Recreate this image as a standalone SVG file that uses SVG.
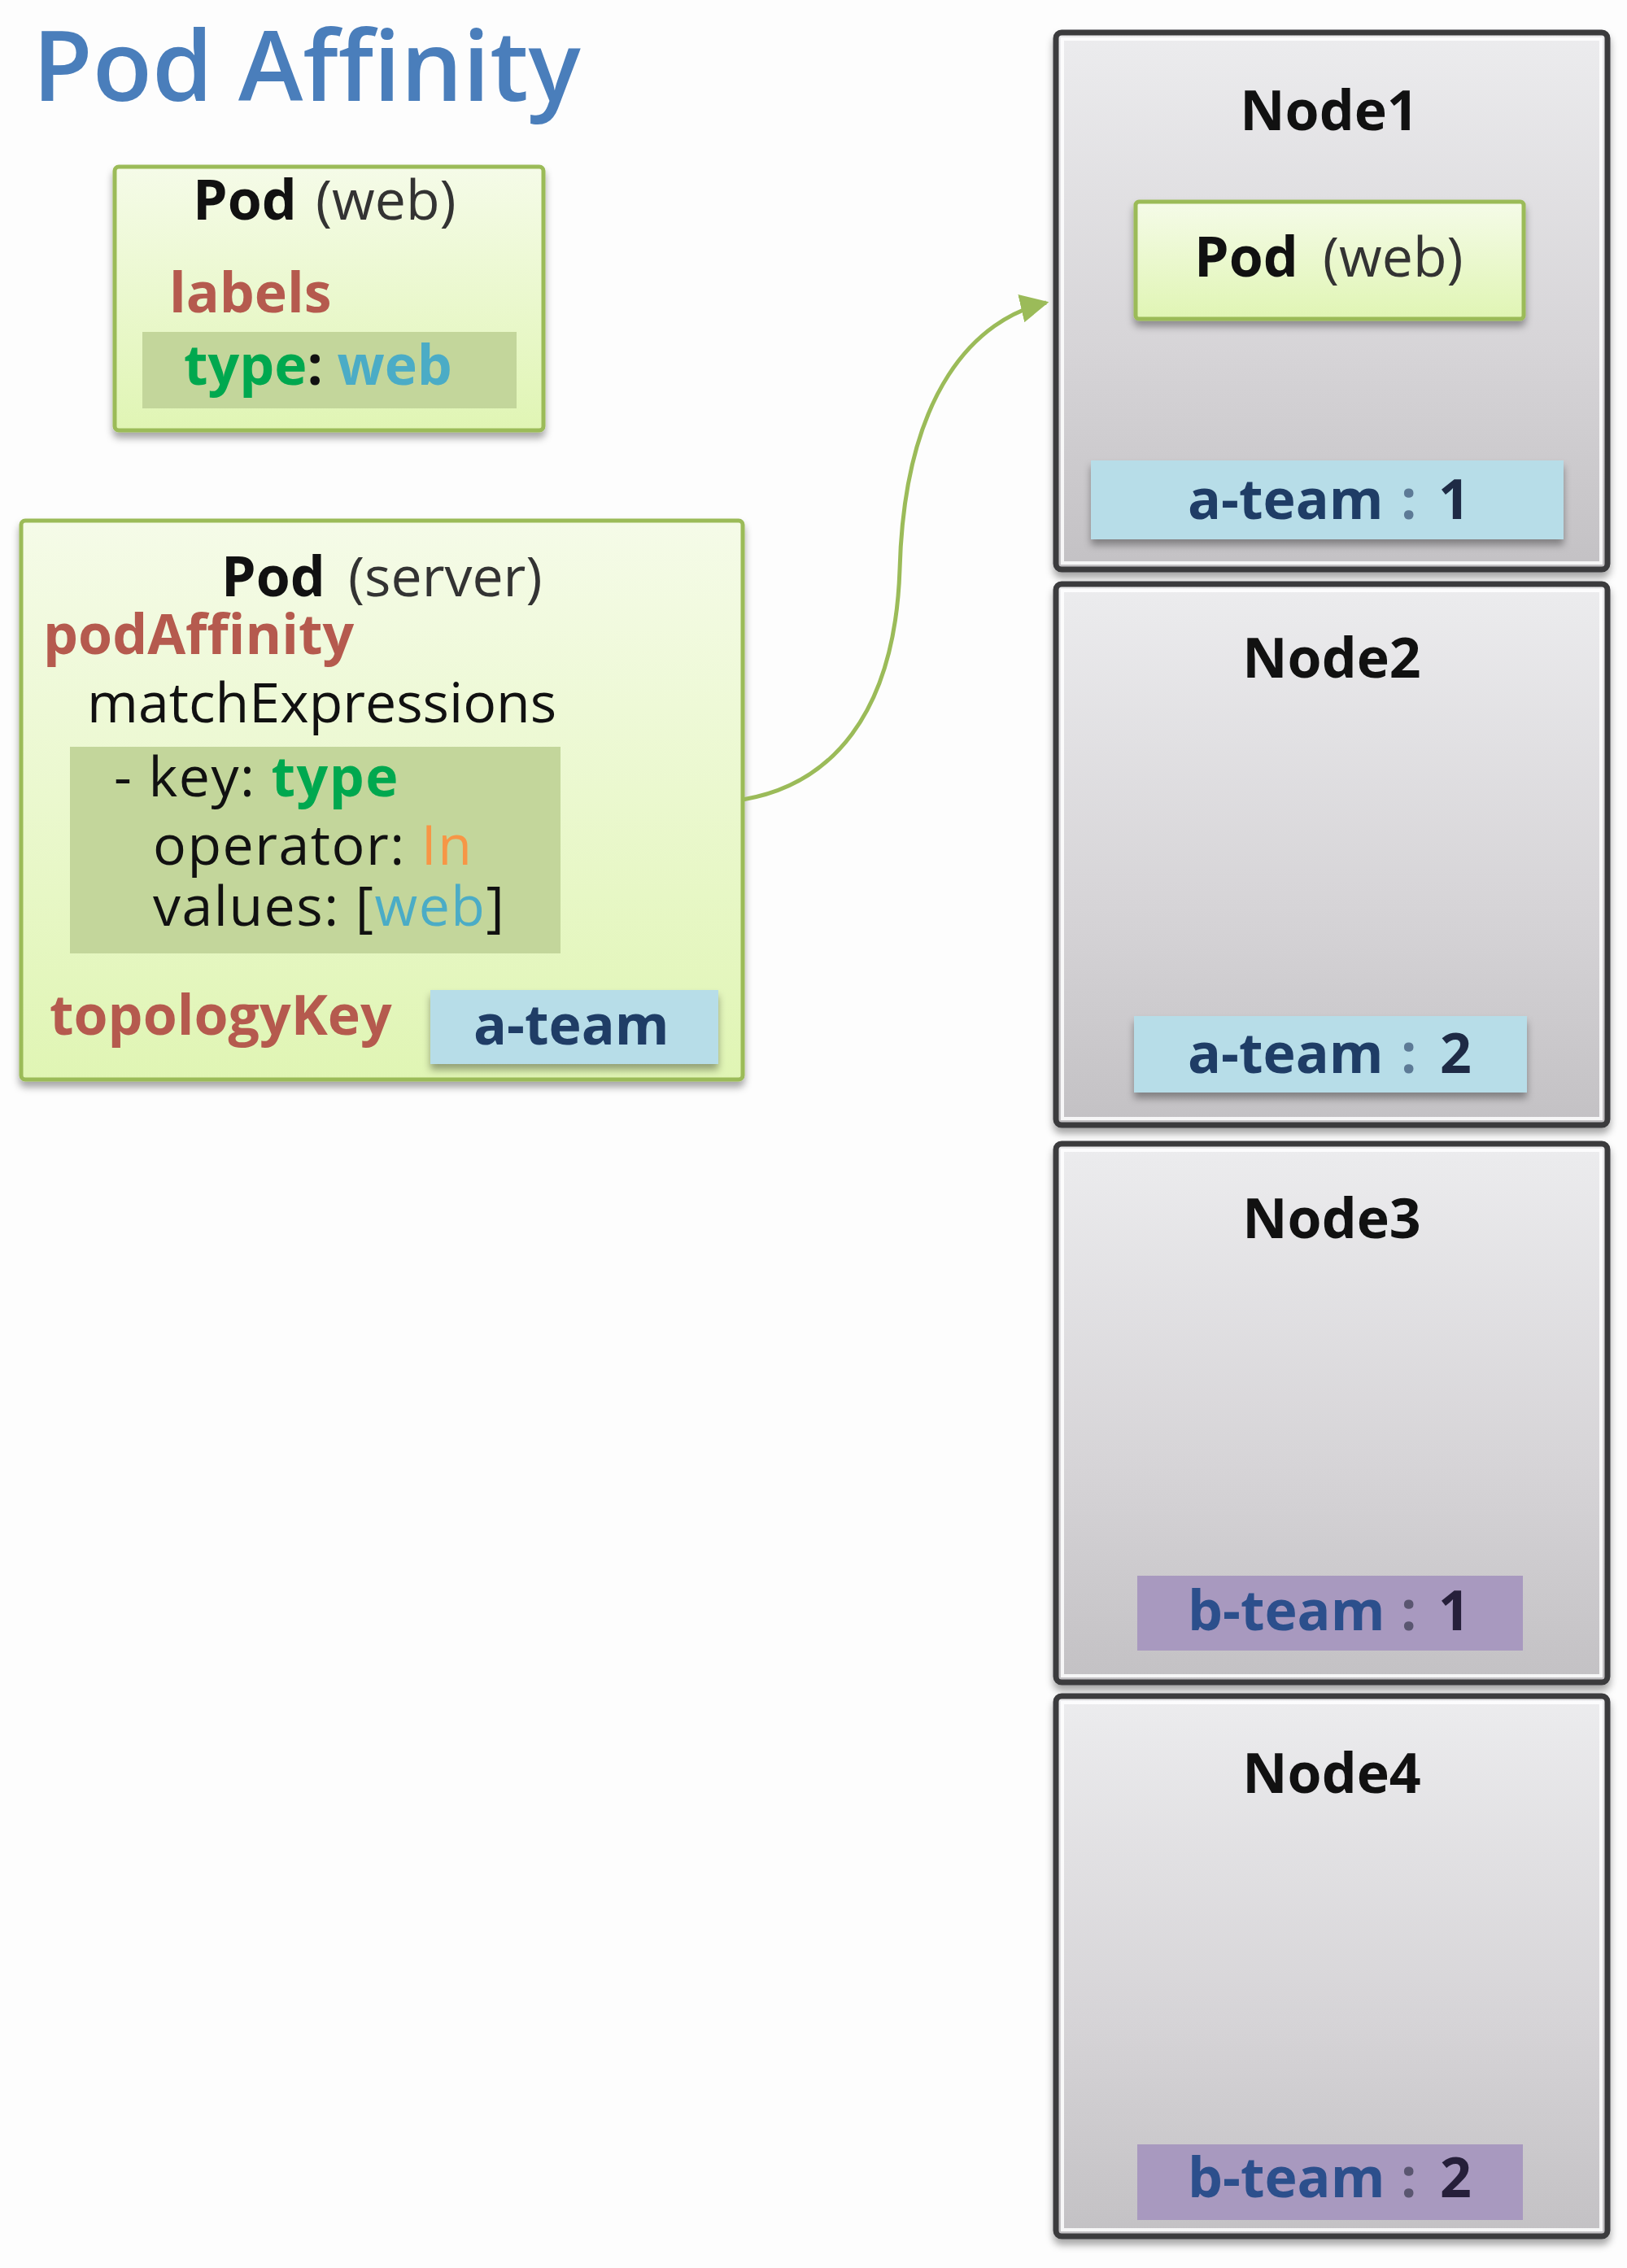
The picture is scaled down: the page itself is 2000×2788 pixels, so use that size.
<svg xmlns="http://www.w3.org/2000/svg" width="2000" height="2788" viewBox="0 0 2000 2788">
<defs>
<linearGradient id="gPod" x1="0" y1="0" x2="0" y2="1">
<stop offset="0" stop-color="#f5fbe8"/>
<stop offset="1" stop-color="#e0f5b4"/>
</linearGradient>
<linearGradient id="gNode" x1="0" y1="0" x2="0" y2="1">
<stop offset="0" stop-color="#ececee"/>
<stop offset="0.6" stop-color="#d6d4d7"/>
<stop offset="1" stop-color="#c3c1c4"/>
</linearGradient>
<filter id="sh" x="-10%" y="-10%" width="120%" height="130%">
<feDropShadow dx="0" dy="7" stdDeviation="5" flood-color="#000" flood-opacity="0.35"/>
</filter>
<marker id="arr" viewBox="0 0 10 10" refX="9" refY="5" markerWidth="7" markerHeight="7" markerUnits="strokeWidth" orient="auto">
<path d="M0,0 L10,5 L0,10 Z" fill="#9bbb59"/>
</marker>
</defs>
<style>
text{font-family:"Open Sans","Noto Sans","DejaVu Sans",sans-serif;font-size:68px;fill:#111}
.b{font-weight:bold}
.brick{fill:#b55a4e;font-weight:bold}
.grn{fill:#00a84f}
.teal{fill:#4bacc6}
.org{fill:#f79646}
.navy{fill:#1f3d66}
.col{fill:#5d7a96}
.num{fill:#1e2a45}
.wide{letter-spacing:1.5px}
.pod{fill:url(#gPod);stroke:#9bbb59;stroke-width:5}
.node{fill:url(#gNode);stroke:#3a3a3c;stroke-width:7}
.inner{fill:none;stroke:#ffffff;stroke-width:4;opacity:0.85}
.blue{fill:#b7dde8}
.purp{fill:#a899bf}
.hl{fill:#c3d69b}
.conn{fill:none;stroke:#9bbb59;stroke-width:5}
</style>
<rect x="0" y="0" width="2000" height="2788" fill="#fdfdfd"/>

<text id="title" x="40" y="124" style="font-size:120px;font-weight:600;fill:#4a7ebb">Pod Affinity</text>

<g id="pod-web">
<rect class="pod" x="141" y="205" width="527" height="324" rx="5" filter="url(#sh)"/>
<text y="270"><tspan class="b" x="237">Pod</tspan><tspan x="388" style="fill:#333">(web)</tspan></text>
<text class="brick" x="208" y="384">labels</text>
<rect class="hl" x="175" y="408" width="460" height="94"/>
<text class="b" y="473"><tspan class="grn" x="226">type</tspan><tspan>: </tspan><tspan class="teal">web</tspan></text>
</g>

<g id="pod-server">
<rect class="pod" x="26" y="640" width="887" height="687" rx="5" filter="url(#sh)"/>
<text y="733"><tspan class="b" x="272">Pod</tspan><tspan x="428" style="fill:#333">(server)</tspan></text>
<text class="brick" x="53" y="804">podAffinity</text>
<text x="107" y="888">matchExpressions</text>
<rect class="hl" x="86" y="918" width="603" height="254"/>
<text class="wide" y="979"><tspan x="140">- key: </tspan><tspan class="b grn">type</tspan></text>
<text class="wide" y="1063"><tspan x="188">operator: </tspan><tspan class="org">In</tspan></text>
<text class="wide" y="1138"><tspan x="188">values: [</tspan><tspan class="teal">web</tspan><tspan>]</tspan></text>
<text class="brick" x="61" y="1272">topologyKey</text>
<rect class="blue" x="529" y="1217" width="354" height="91" filter="url(#sh)"/>
<text class="b navy" x="582" y="1284">a-team</text>
</g>

<g id="node1">
<rect class="node" x="1298" y="40" width="678" height="660" rx="7" filter="url(#sh)"/>
<rect class="inner" x="1306" y="48" width="662" height="644"/>
<text class="b" x="1634" y="160" text-anchor="middle">Node1</text>
<rect class="pod" x="1396" y="248" width="477" height="144" rx="4" filter="url(#sh)"/>
<text y="340"><tspan class="b" x="1468">Pod</tspan><tspan x="1626" style="fill:#333">(web)</tspan></text>
<rect class="blue" x="1341" y="566" width="581" height="97" filter="url(#sh)"/>
<text class="b" y="638"><tspan class="navy" x="1460">a-team</tspan><tspan class="col" x="1722">:</tspan><tspan class="num" x="1768">1</tspan></text>
</g>

<g id="node2">
<rect class="node" x="1298" y="718" width="678" height="665" rx="7" filter="url(#sh)"/>
<rect class="inner" x="1306" y="726" width="662" height="649"/>
<text class="b" x="1637" y="833" text-anchor="middle">Node2</text>
<rect class="blue" x="1394" y="1249" width="483" height="94" filter="url(#sh)"/>
<text class="b" y="1319"><tspan class="navy" x="1460">a-team</tspan><tspan class="col" x="1722">:</tspan><tspan class="num" x="1770">2</tspan></text>
</g>

<g id="node3">
<rect class="node" x="1298" y="1406" width="678" height="662" rx="7" filter="url(#sh)"/>
<rect class="inner" x="1306" y="1414" width="662" height="646"/>
<text class="b" x="1637" y="1522" text-anchor="middle">Node3</text>
<rect class="purp" x="1398" y="1937" width="474" height="92"/>
<text class="b" y="2004"><tspan style="fill:#2c4f8c" x="1460">b-team</tspan><tspan style="fill:#5a5670" x="1722">:</tspan><tspan style="fill:#261f3a" x="1768">1</tspan></text>
</g>

<g id="node4">
<rect class="node" x="1298" y="2085" width="678" height="664" rx="7" filter="url(#sh)"/>
<rect class="inner" x="1306" y="2093" width="662" height="648"/>
<text class="b" x="1637" y="2204" text-anchor="middle">Node4</text>
<rect class="purp" x="1398" y="2636" width="474" height="93"/>
<text class="b" y="2701"><tspan style="fill:#2c4f8c" x="1460">b-team</tspan><tspan style="fill:#5a5670" x="1722">:</tspan><tspan style="fill:#261f3a" x="1770">2</tspan></text>
</g>

<g id="connectors">
<path class="conn" d="M913,983 C1020,965 1100,880 1106,700 C1112,480 1200,392 1286,372" marker-end="url(#arr)"/>
</g>
</svg>
